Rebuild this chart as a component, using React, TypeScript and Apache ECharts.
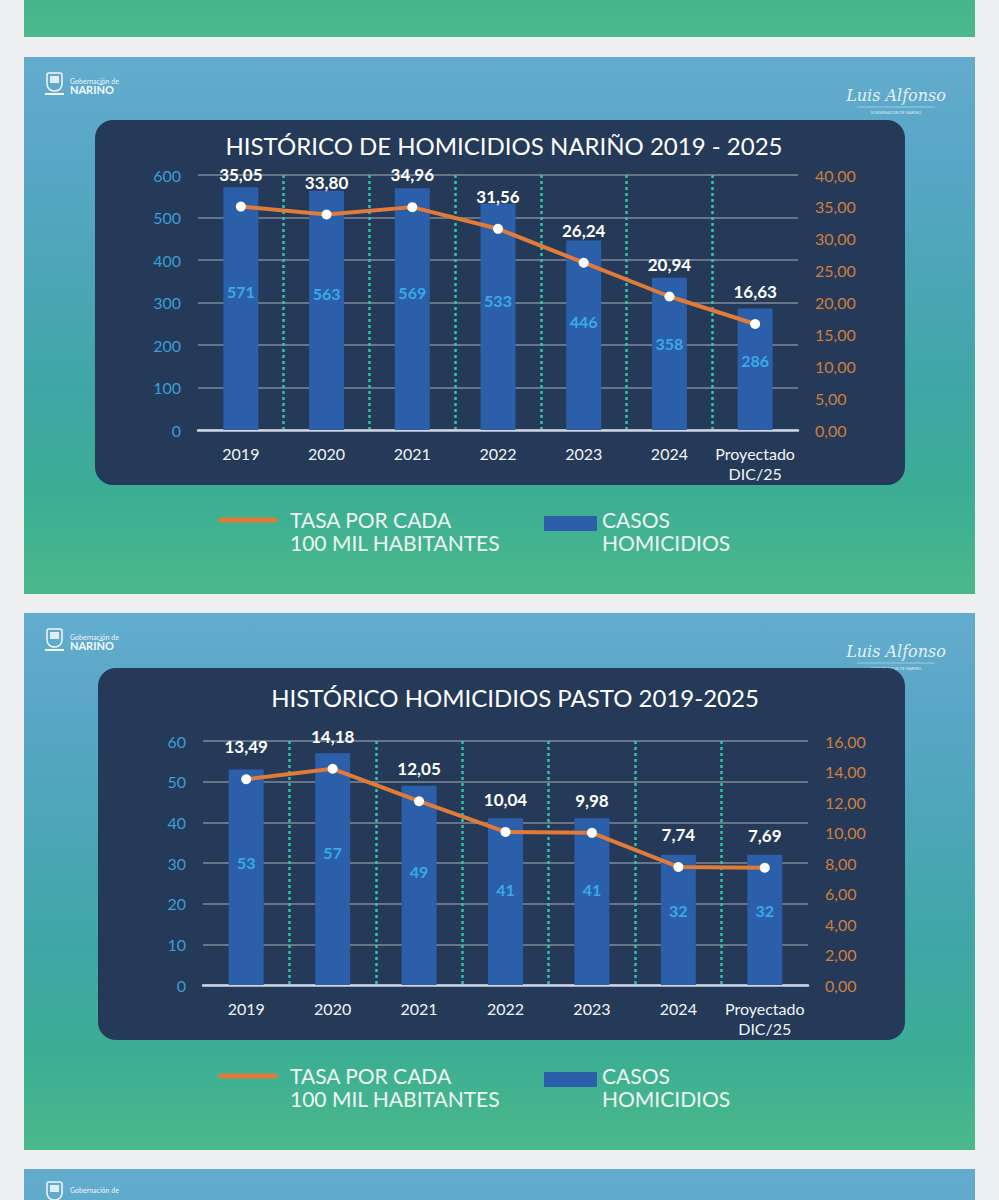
import React, { useEffect, useRef } from "react";
import * as echarts from "echarts";

const categories = ["2019", "2020", "2021", "2022", "2023", "2024", "Proyectado\nDIC/25"];
const narinoCases = [571, 563, 569, 533, 446, 358, 286];
const narinoRate = [35.05, 33.8, 34.96, 31.56, 26.24, 20.94, 16.63];
const pastoCases = [53, 57, 49, 41, 41, 32, 32];
const pastoRate = [13.49, 14.18, 12.05, 10.04, 9.98, 7.74, 7.69];
const narinoCasesTicks = { min: 0, max: 600, interval: 100 };
const narinoRateTicks = { min: 0, max: 40, interval: 5 };
const pastoCasesTicks = { min: 0, max: 60, interval: 10 };
const pastoRateTicks = { min: 0, max: 16, interval: 2 };
const titles = ["HISTÓRICO DE HOMICIDIOS NARIÑO 2019 - 2025", "HISTÓRICO HOMICIDIOS PASTO 2019-2025"];
const legendRate = "TASA POR CADA\n100 MIL HABITANTES";
const legendCases = "CASOS\nHOMICIDIOS";

const FONT = "Lato, 'Open Sans', sans-serif";
const BAR = "#2b5fa9";
const ORANGE = "#e07b39";
const PANEL = "#243a58";
const comma = (v: number) => v.toFixed(2).replace(".", ",");

function slideBg(y: number, h: number) {
  return {
    type: "rect",
    shape: { x: 24, y, width: 951, height: h },
    style: {
      fill: new echarts.graphic.LinearGradient(0, 0, 0, 1, [
        { offset: 0, color: "#63acce" },
        { offset: 0.2, color: "#58a6c6" },
        { offset: 0.62, color: "#3fa6a6" },
        { offset: 0.82, color: "#3cae93" },
        { offset: 1, color: "#4bb98a" },
      ]),
    },
    z: -10,
  };
}

function logos(y: number, full: boolean) {
  const base: any[] = [
    { type: "rect", shape: { x: 47, y: y + 16, width: 15, height: 18, r: [2, 2, 7, 7] }, style: { fill: "none", stroke: "#f2f7fa", lineWidth: 1.5 }, z: -5 },
    { type: "rect", shape: { x: 50, y: y + 19, width: 9, height: 7 }, style: { fill: "#e3eef4" }, z: -5 },
    { type: "text", x: 70, y: y + 20, style: { text: "Gobernación de", fill: "#eef6fa", font: "7px " + FONT }, z: -5 },
  ];
  if (!full) return base;
  return [
    ...base,
    { type: "line", shape: { x1: 45, y1: y + 37, x2: 64, y2: y + 37 }, style: { stroke: "#f2f7fa", lineWidth: 2 }, z: -5 },
    { type: "text", x: 70, y: y + 27, style: { text: "NARIÑO", fill: "#f5fafc", font: "bold 11px " + FONT }, z: -5 },
    { type: "text", x: 896, y: y + 38, style: { text: "Luis Alfonso", fill: "#e6f1f6", font: "italic 16px 'DejaVu Serif', serif", align: "center", verticalAlign: "middle" }, z: -5 },
    { type: "line", shape: { x1: 857, y1: y + 50, x2: 935, y2: y + 50 }, style: { stroke: "#cfe3ec", lineWidth: 0.6 }, z: -5 },
    { type: "text", x: 896, y: y + 55, style: { text: "GOBERNADOR DE NARIÑO", fill: "#dcebf2", font: "4px " + FONT, align: "center", verticalAlign: "middle" }, z: -5 },
  ];
}

function legend(y: number) {
  return [
    { type: "line", shape: { x1: 219, y1: y, x2: 277, y2: y }, style: { stroke: ORANGE, lineWidth: 5 } },
    { type: "text", x: 290, y: y - 12, style: { text: legendRate, fill: "#eef6f3", font: "21px " + FONT, lineHeight: 23 } },
    { type: "rect", shape: { x: 544, y: y - 4, width: 53, height: 15 }, style: { fill: BAR } },
    { type: "text", x: 602, y: y - 12, style: { text: legendCases, fill: "#eef6f3", font: "21px " + FONT, lineHeight: 23 } },
  ];
}

function panel(x: number, y: number, w: number, h: number, title: string, cx: number, ty: number) {
  return [
    { type: "rect", shape: { x, y, width: w, height: h, r: 18 }, style: { fill: PANEL }, z: -2 },
    { type: "text", x: cx, y: ty, style: { text: title, fill: "#ffffff", font: "24px " + FONT, align: "center", verticalAlign: "middle" }, z: -1 },
  ];
}

function axesFor(gi: number, left: any, right: any) {
  const yl = {
    type: "value", gridIndex: gi, position: "left", ...left,
    axisLabel: { color: "#3a9fd6", fontFamily: FONT, fontSize: 16, margin: 17 },
    axisLine: { show: false }, axisTick: { show: false },
    splitLine: { show: true, lineStyle: { color: "#7f8a99", width: 1.5 } },
  };
  const yr = {
    type: "value", gridIndex: gi, position: "right", ...right,
    axisLabel: { color: "#cf7e3e", fontFamily: FONT, fontSize: 16, margin: 17, formatter: (v: number) => comma(v) },
    axisLine: { show: false }, axisTick: { show: false }, splitLine: { show: false },
  };
  const x = {
    type: "category", gridIndex: gi, data: categories,
    axisLine: { lineStyle: { color: "#cdd6e2", width: 2.5 } },
    axisTick: { show: false },
    axisLabel: { color: "#f2f4f7", fontFamily: FONT, fontSize: 16, margin: 13, lineHeight: 20, interval: 0 },
    splitLine: { show: true, showMinLine: false, showMaxLine: false, lineStyle: { color: "#2ec4a4", width: 2.5, type: [3, 3] } },
  };
  return { x, yl, yr };
}

function seriesFor(gi: number, cases: number[], rate: number[]) {
  return [
    {
      type: "bar", xAxisIndex: gi, yAxisIndex: gi * 2, data: cases, barWidth: 35,
      itemStyle: { color: BAR },
      label: { show: true, position: ["50%", "43%"], align: "center", verticalAlign: "middle", color: "#3aa9ea", fontFamily: FONT, fontWeight: "bold", fontSize: 16 },
      z: 2,
    },
    {
      type: "line", xAxisIndex: gi, yAxisIndex: gi * 2 + 1, data: rate,
      lineStyle: { color: ORANGE, width: 4 }, itemStyle: { color: "#ffffff" },
      symbol: "circle", symbolSize: 10, showSymbol: true,
      label: { show: true, position: "top", distance: 19, color: "#ffffff", fontFamily: FONT, fontWeight: "bold", fontSize: 17, formatter: (p: any) => comma(p.value) },
      z: 4,
    },
  ];
}

export default function App() {
  const ref = useRef<HTMLDivElement>(null);
  useEffect(() => {
    if (!ref.current) return;
    const chart = echarts.init(ref.current, null, { renderer: "svg" });
    const a0 = axesFor(0, narinoCasesTicks, narinoRateTicks);
    const a1 = axesFor(1, pastoCasesTicks, pastoRateTicks);
    const graphics: any[] = [
      { type: "rect", shape: { x: 0, y: 0, width: 999, height: 1200 }, style: { fill: "#eeeff1" }, z: -20 },
      slideBg(-500, 537),
      slideBg(57, 537),
      slideBg(613, 537),
      slideBg(1169, 537),
      ...logos(57, true),
      ...logos(613, true),
      ...logos(1166, false),
      ...panel(95, 120, 810, 365, titles[0], 504, 145),
      ...panel(98, 668, 807, 372, titles[1], 515, 697),
      ...legend(520),
      ...legend(1076),
    ];
    chart.setOption({
      animation: false,
      graphic: { elements: graphics },
      grid: [
        { left: 198, width: 600, top: 175, height: 255 },
        { left: 203, width: 605, top: 741, height: 244 },
      ],
      xAxis: [a0.x, a1.x],
      yAxis: [a0.yl, a0.yr, a1.yl, a1.yr],
      series: [...seriesFor(0, narinoCases, narinoRate), ...seriesFor(1, pastoCases, pastoRate)],
    });
    return () => chart.dispose();
  }, []);
  return <div ref={ref} style={{ position: "absolute", left: 0, top: 0, width: 999, height: 1200 }} />;
}
